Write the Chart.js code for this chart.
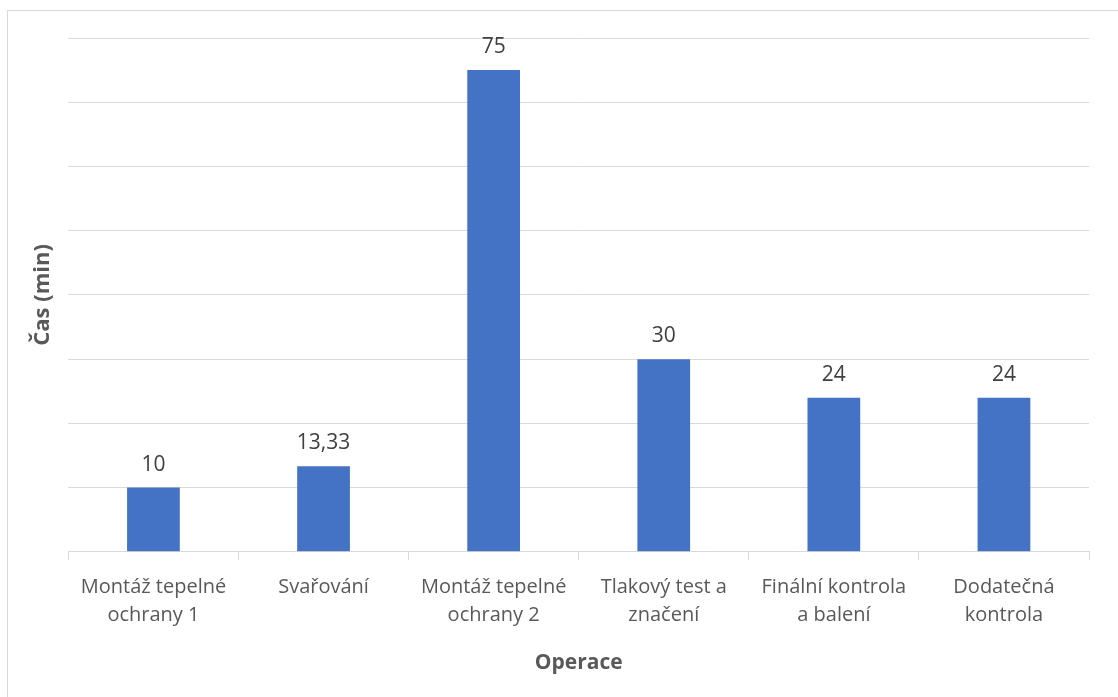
<!DOCTYPE html>
<html>
<head>
<meta charset="utf-8">
<script src="https://cdn.jsdelivr.net/npm/chart.js@4/dist/chart.umd.min.js"></script>
<style>
  html, body { margin: 0; padding: 0; background: #fff; }
  #frame { position: absolute; left: 7px; top: 10px; width: 1120px; height: 700px; border: 1px solid #d9d9d9; box-sizing: border-box; }
  #wrap { position: absolute; left: 0; top: 0; width: 1118px; height: 697px; }
</style>
</head>
<body>
<div id="frame"></div>
<div id="wrap"><canvas id="chart"></canvas></div>
<script>
const categories = [
  ["Montáž tepelné", "ochrany 1"],
  "Svařování",
  ["Montáž tepelné", "ochrany 2"],
  ["Tlakový test a", "značení"],
  ["Finální kontrola", "a balení"],
  ["Dodatečná", "kontrola"]
];
const times = [10, 13.33, 75, 30, 24, 24];
const yTitle = "Čas (min)";
const xTitle = "Operace";

const FONT = "'Open Sans', sans-serif";
const fmt = (v) => String(v).replace(".", ",");

const valueLabels = {
  id: "valueLabels",
  afterDatasetsDraw(chart) {
    const ctx = chart.ctx;
    const meta = chart.getDatasetMeta(0);
    ctx.save();
    ctx.fillStyle = "#404040";
    ctx.font = "21px " + FONT;
    ctx.textAlign = "center";
    ctx.textBaseline = "middle";
    meta.data.forEach((bar, i) => {
      ctx.fillText(fmt(times[i]), bar.x, bar.y - 23);
    });
    ctx.restore();
  }
};

new Chart(document.getElementById("chart"), {
  type: "bar",
  data: {
    labels: categories,
    datasets: [{ data: times, backgroundColor: "#4472C4", barPercentage: 0.31, categoryPercentage: 1 }]
  },
  options: {
    responsive: true,
    maintainAspectRatio: false,
    animation: false,
    layout: { padding: { left: 30, right: 29, top: 38, bottom: 21 } },
    plugins: { legend: { display: false }, tooltip: { enabled: false } },
    scales: {
      x: {
        grid: { display: true, drawOnChartArea: false, drawTicks: true, tickLength: 8, color: "#d9d9d9", offset: true },
        border: { display: true, color: "#d9d9d9" },
        ticks: { color: "#595959", font: { family: FONT, size: 20, lineHeight: 1.4 }, padding: 13, maxRotation: 0, autoSkip: false },
        title: { display: true, text: xTitle, color: "#595959", font: { family: FONT, size: 21, weight: "bold" }, padding: { top: 9, bottom: 0 } }
      },
      y: {
        min: 0,
        max: 80,
        ticks: { display: false, stepSize: 10 },
        grid: { color: "#d9d9d9", drawTicks: false },
        border: { display: false },
        title: { display: true, text: yTitle, color: "#595959", font: { family: FONT, size: 22, weight: "bold" }, padding: { top: 0, bottom: 12 } }
      }
    }
  },
  plugins: [valueLabels]
});
</script>
</body>
</html>
